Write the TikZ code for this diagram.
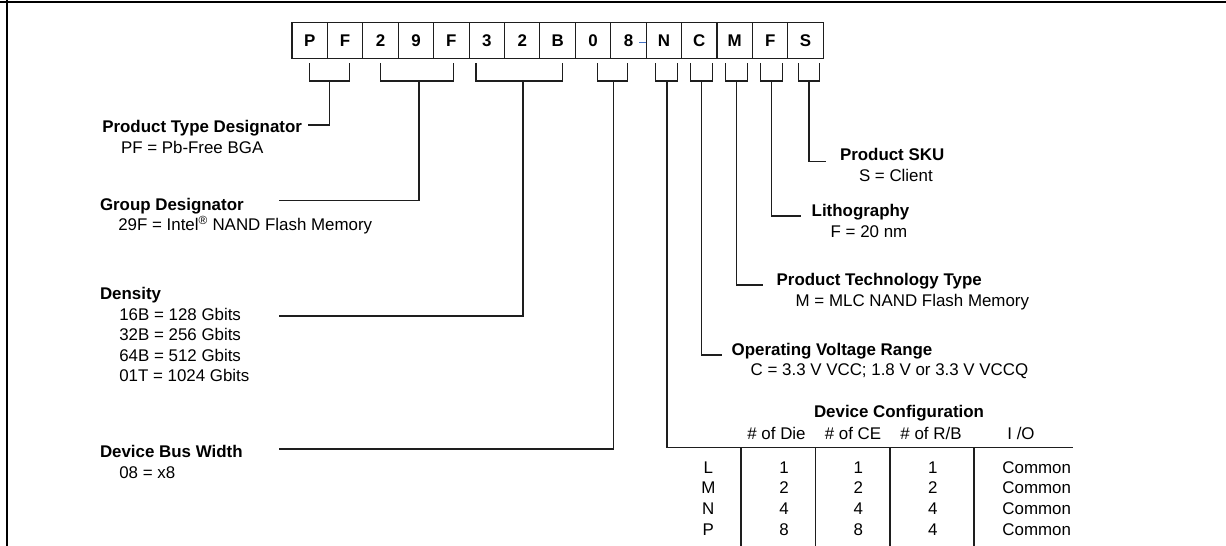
\documentclass[tikz,border=0pt]{standalone}
\usepackage{fontspec}
\setmainfont{Liberation Sans}
\definecolor{dashblue}{RGB}{68,114,196}
\definecolor{lncol}{RGB}{30,30,30}
\begin{document}
\begin{tikzpicture}[x=1pt,y=-1pt,
  every node/.style={inner sep=0pt, outer sep=0pt},
  txt/.style={anchor=base west, font=\fontsize{16.9}{20}\selectfont},
  hd/.style={anchor=base west, font=\fontsize{16.9}{20}\selectfont\bfseries},
  ctr/.style={anchor=base, font=\fontsize{16.9}{20}\selectfont},
  cell/.style={draw=lncol, line width=1.1pt, minimum width=35.42pt, minimum height=36pt,
    text height=12.2pt, text depth=0pt, font=\fontsize{16.9}{20}\selectfont\bfseries, anchor=north west},
  ln/.style={draw=lncol, line width=1.3pt},
  frame/.style={draw=black, line width=2.4pt}]
\useasboundingbox (0,0) rectangle (1226,546);
% frame
\draw[frame] (0,1.8) -- (1226,1.8);
\draw[frame] (7,0) -- (7,546);
% part-number boxes
\foreach \c [count=\i from 0] in {P,F,2,9,F,3,2,B,0,8,N,C,M,F,S} {
  \node[cell] (b\i) at ({292+\i*35.42},22.7) {\c};
}
\coordinate (hy1) at (639,42.3);
\coordinate (hy2) at (645.7,42.3);
\draw[dashblue, line width=1.1pt] (hy1) -- (hy2);
% brackets
\foreach \a/\b in {309.7/349.3, 380.3/453.7, 476/562.3, 597.3/627.3, 655.3/677.3, 690.3/712.7, 725.3/747.3, 760.7/782.3, 798.3/819.7} {
  \draw[ln] (\a,63) -- (\a,81) -- (\b,81) -- (\b,63);
}
% connector coordinates
\coordinate (kPF) at (329.5,81);  \coordinate (ePF) at (308,125);
\coordinate (kGD) at (419,81);    \coordinate (eGD) at (279.3,200.7);
\coordinate (kDN) at (523,81);    \coordinate (eDN) at (279.3,316);
\coordinate (kBW) at (613.5,81);  \coordinate (eBW) at (279.3,449);
\coordinate (kDC) at (667,81);    \coordinate (eDC) at (1073.3,447.7);
\coordinate (kOV) at (701.7,81);  \coordinate (eOV) at (721.7,355);
\coordinate (kPT) at (736.5,81);  \coordinate (ePT) at (763.3,285);
\coordinate (kLI) at (771.5,81);  \coordinate (eLI) at (801,216);
\coordinate (kSK) at (809,81);    \coordinate (eSK) at (825.7,161.7);
\foreach \n in {PF,GD,DN,BW,DC,OV,PT,LI,SK} { \draw[ln] (k\n) |- (e\n); }
% left labels
\node[hd]  (tPF)  at (102.3,132.3) {Product Type Designator};
\node[txt] (tPF1) at (121,153.3) {PF = Pb-Free BGA};
\node[hd]  (tGD)  at (100,210) {Group Designator};
\node[txt] (tGD1) at (118.3,230.5) {29F = Intel\textsuperscript{®} NAND Flash Memory};
\node[hd]  (tDN)  at (100,299.3) {Density};
\node[txt] (tDN1) at (119.3,320) {16B = 128 Gbits};
\node[txt] (tDN2) at (119.3,340.5) {32B = 256 Gbits};
\node[txt] (tDN3) at (119.3,361) {64B = 512 Gbits};
\node[txt] (tDN4) at (119.3,381.3) {01T = 1024 Gbits};
\node[hd]  (tBW)  at (100,457.5) {Device Bus Width};
\node[txt] (tBW1) at (119.3,478) {08 = x8};
% right labels
\node[hd]  (tSK)  at (840,160.7) {Product SKU};
\node[txt] (tSK1) at (859,181.3) {S = Client};
\node[hd]  (tLI)  at (811.7,216.7) {Lithography};
\node[txt] (tLI1) at (830.7,237) {F = 20 nm};
\node[hd]  (tPT)  at (776.7,285.7) {Product Technology Type};
\node[txt] (tPT1) at (795.7,306.5) {M = MLC NAND Flash Memory};
\node[hd]  (tOV)  at (731.7,355) {Operating Voltage Range};
\node[txt] (tOV1) at (750.7,375.3) {C = 3.3 V VCC; 1.8 V or 3.3 V VCCQ};
% table
\node[ctr, font=\fontsize{16.9}{20}\selectfont\bfseries] (tDC) at (899,417.3) {Device Configuration};
\node[ctr] (h1) at (776.5,439) {\# of Die};
\node[ctr] (h2) at (853,439) {\# of CE};
\node[ctr] (h3) at (931,439) {\# of R/B};
\node[ctr] (h4) at (1021,439) {I /O};
\foreach \x in {741,815.7,890,974} { \draw[ln] (\x,447.7) -- (\x,546); }
\foreach \l/\d/\e/\r [count=\k from 0] in {L/1/1/1, M/2/2/2, N/4/4/4, P/8/8/4} {
  \node[ctr] (rl\k) at (708.3,{473+\k*20.7}) {\l};
  \node[ctr] (rd\k) at (784,{473+\k*20.7}) {\d};
  \node[ctr] (rc\k) at (858.3,{473+\k*20.7}) {\e};
  \node[ctr] (rr\k) at (932.7,{473+\k*20.7}) {\r};
  \node[ctr, anchor=base east] (ro\k) at (1071,{473+\k*20.7}) {Common};
}
\end{tikzpicture}
\end{document}
